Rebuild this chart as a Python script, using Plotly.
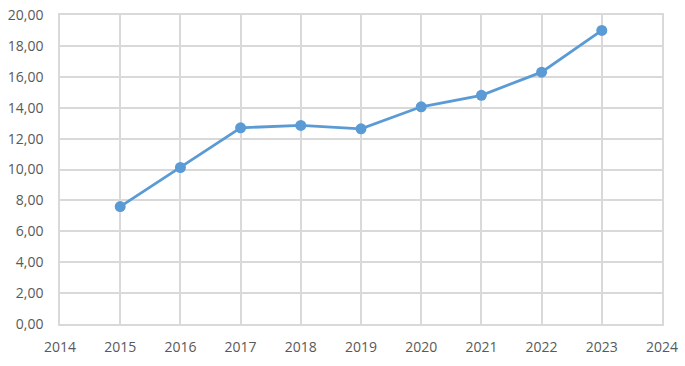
import plotly.graph_objects as go

years = [2015, 2016, 2017, 2018, 2019, 2020, 2021, 2022, 2023]
values = [7.60, 10.13, 12.70, 12.85, 12.63, 14.06, 14.80, 16.30, 19.00]

fig = go.Figure()
fig.add_trace(go.Scatter(
    x=years, y=values, mode="lines+markers",
    line=dict(color="#5b9bd5", width=2.8),
    marker=dict(color="#5b9bd5", size=11),
    showlegend=False,
))

grid = "#d9d9d9"
fig.update_layout(
    width=685, height=366,
    margin=dict(l=60, r=23, t=15, b=42),
    paper_bgcolor="white", plot_bgcolor="white",
    separators=",.",
    font=dict(family="Open Sans, DejaVu Sans, sans-serif", size=14, color="#595959"),
    xaxis=dict(range=[2014, 2024], dtick=1, tick0=2014, showgrid=True, gridcolor=grid, gridwidth=1.5,
               showline=True, linecolor=grid, linewidth=1.5, mirror=True, zeroline=False,
               ticks="", ticklabelstandoff=9, automargin=False),
    yaxis=dict(range=[0, 20], dtick=2, tickformat=".2f", showgrid=True, gridcolor=grid, gridwidth=1.5,
               showline=True, linecolor=grid, linewidth=1.5, mirror=True, zeroline=False,
               ticks="", ticklabelstandoff=12, automargin=False),
)

fig.write_html("out.html")
